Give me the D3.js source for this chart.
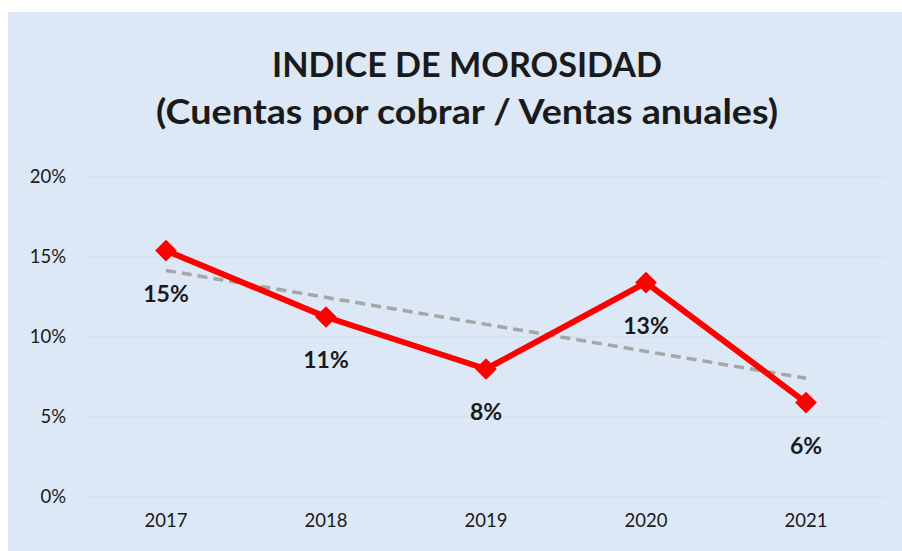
<!DOCTYPE html>
<html>
<head>
<meta charset="utf-8">
<script src="https://cdn.jsdelivr.net/npm/d3@7"></script>
<style>
  body { margin: 0; background: #ffffff; }
  svg text { font-family: Lato, "Liberation Sans", sans-serif; fill: #1a1a1a; }
</style>
</head>
<body>
<div id="chart"></div>
<script>
var WIDTH = 902
var HEIGHT = 551

// data
var years = ["2017", "2018", "2019", "2020", "2021"]
var values = [0.154, 0.1125, 0.080, 0.134, 0.059]
var labels = ["15%", "11%", "8%", "13%", "6%"]
var yTicks = [0, 0.05, 0.10, 0.15, 0.20]
var titleLines = ["INDICE DE MOROSIDAD", "(Cuentas por cobrar / Ventas anuales)"]

var svg = d3.select("#chart").append("svg")
  .attr("width", WIDTH)
  .attr("height", HEIGHT)

// chart area background
svg.append("rect")
  .attr("x", 8).attr("y", 12)
  .attr("width", WIDTH - 8).attr("height", HEIGHT - 12)
  .attr("fill", "#dce8f5")

var x = d3.scaleBand().domain(years).range([86, 886])
var y = d3.scaleLinear().domain([0, 0.20]).range([497, 177])

// gridlines
svg.append("g")
  .selectAll("line")
  .data(yTicks)
  .enter()
  .append("line")
  .attr("x1", 86).attr("x2", 886)
  .attr("y1", function(d){ return y(d) })
  .attr("y2", function(d){ return y(d) })
  .attr("stroke", "#d0dded")
  .attr("stroke-width", 1)

// y axis labels
var yAxis = d3.axisLeft(y).tickValues(yTicks).tickFormat(d3.format(".0%")).tickSize(0).tickPadding(0)
var gy = svg.append("g").attr("transform", "translate(66,0)").call(yAxis)
gy.select(".domain").remove()
gy.selectAll("text").attr("font-size", 18.5).attr("font-family", "Lato, sans-serif").attr("fill", "#1a1a1a")

// x axis labels
var xAxis = d3.axisBottom(x).tickSize(0).tickPadding(0)
var gx = svg.append("g").attr("transform", "translate(0,514)").call(xAxis)
gx.select(".domain").remove()
gx.selectAll("text").attr("font-size", 18.5).attr("font-family", "Lato, sans-serif").attr("fill", "#1a1a1a")

// title
var titleWidths = [390, 622]
svg.selectAll(".title")
  .data(titleLines)
  .enter()
  .append("text")
  .attr("class", "title")
  .attr("x", 467)
  .attr("y", function(d, i){ return 77 + i * 47 })
  .attr("text-anchor", "middle")
  .attr("font-size", 35)
  .attr("font-weight", "bold")
  .attr("textLength", function(d, i){ return titleWidths[i] })
  .attr("lengthAdjust", "spacingAndGlyphs")
  .text(function(d){ return d })

var cx = function(i){ return x(years[i]) + x.bandwidth() / 2 }

// linear trendline (least squares over the series)
var n = values.length
var mx = d3.mean(values, function(d, i){ return i })
var my = d3.mean(values)
var slope = d3.sum(values, function(d, i){ return (i - mx) * (d - my) }) / d3.sum(values, function(d, i){ return (i - mx) * (i - mx) })
var trend = [0, n - 1].map(function(i){ return [cx(i), y(my + slope * (i - mx))] })

svg.append("path")
  .attr("d", d3.line()(trend))
  .attr("fill", "none")
  .attr("stroke", "#a6a6a6")
  .attr("stroke-width", 3.5)
  .attr("stroke-dasharray", "10,6")

// main line
var line = d3.line()
  .x(function(d, i){ return cx(i) })
  .y(function(d){ return y(d) })

svg.append("path")
  .datum(values)
  .attr("d", line)
  .attr("fill", "none")
  .attr("stroke", "#ff0000")
  .attr("stroke-width", 6)
  .attr("stroke-linejoin", "round")

// diamond markers
svg.selectAll(".marker")
  .data(values)
  .enter()
  .append("path")
  .attr("class", "marker")
  .attr("d", d3.symbol().type(d3.symbolDiamond2).size(300))
  .attr("transform", function(d, i){ return "translate(" + cx(i) + "," + y(d) + ")" })
  .attr("fill", "#ff0000")

// data labels
svg.selectAll(".dlabel")
  .data(values)
  .enter()
  .append("text")
  .attr("class", "dlabel")
  .attr("x", function(d, i){ return cx(i) })
  .attr("y", function(d){ return y(d) + 51 })
  .attr("text-anchor", "middle")
  .attr("font-size", 23)
  .attr("font-weight", "bold")
  .text(function(d, i){ return labels[i] })
</script>
</body>
</html>
